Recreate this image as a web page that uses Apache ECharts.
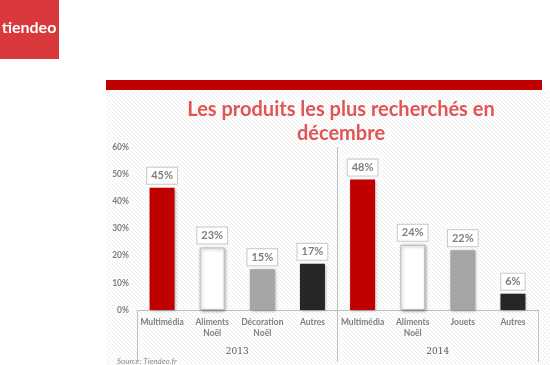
<!DOCTYPE html>
<html>
<head>
<meta charset="utf-8">
<script src="https://cdn.jsdelivr.net/npm/echarts@6/dist/echarts.min.js"></script>
<style>
html,body{margin:0;padding:0;background:#fff;}
#chart{width:550px;height:365px;}
</style>
</head>
<body>
<div id="chart"></div>
<script>
// ---- data ----
var categories = ['Multimédia', 'Aliments\nNoël', 'Décoration\nNoël', 'Autres', 'Multimédia', 'Aliments\nNoël', 'Jouets', 'Autres'];
var years = ['2013', '2014'];
var values = [45, 23, 15, 17, 48, 24, 22, 6];
var yTicks = [0, 10, 20, 30, 40, 50, 60];
var titleText = 'Les produits les plus recherchés en\ndécembre';
var sourceText = 'Source: Tiendeo.fr';
var logoText = 'tiendeo';

// ---- styles ----
var barColors = ['#c00000', '#ffffff', '#a5a5a5', '#262626', '#c00000', '#ffffff', '#a5a5a5', '#262626'];

// hatch pattern for panel background
var pat = document.createElement('canvas');
pat.width = 4; pat.height = 4;
var pc = pat.getContext('2d');
pc.fillStyle = '#ffffff'; pc.fillRect(0, 0, 4, 4);
pc.strokeStyle = 'rgba(0,0,0,0.07)';
pc.lineWidth = 1;
pc.beginPath();
pc.moveTo(0, 0); pc.lineTo(4, 4);
pc.moveTo(-1, 3); pc.lineTo(1, 5);
pc.moveTo(3, -1); pc.lineTo(5, 1);
pc.stroke();

var chart = echarts.init(document.getElementById('chart'), null, {renderer: 'canvas'});

var barData = values.map(function (v, i) {
  var st = {color: barColors[i], shadowColor: 'rgba(0,0,0,0.35)', shadowBlur: 3, shadowOffsetX: 1, shadowOffsetY: 1};
  if (barColors[i] === '#ffffff') { st.borderColor = '#bfbfbf'; st.borderWidth = 1; }
  return {value: v, itemStyle: st};
});

var option = {
  backgroundColor: '#ffffff',
  animation: false,
  graphic: [
    {type: 'rect', shape: {x: 106, y: 91, width: 444, height: 274}, style: {fill: {image: pat, repeat: 'repeat'}}, z: -10, silent: true},
    {type: 'rect', shape: {x: 106, y: 80, width: 436, height: 10}, style: {fill: '#c00000'}, z: -5, silent: true},
    {type: 'rect', shape: {x: 0, y: 0, width: 59, height: 59}, style: {fill: '#d9393b'}, z: -5, silent: true},
    {type: 'text', x: 29, y: 28, style: {text: logoText, fill: '#ffffff', font: 'bold 16px Lato', textAlign: 'center', textVerticalAlign: 'middle'}, z: 10, silent: true}
  ],
  title: [
    {text: titleText, left: 336, top: 93, textAlign: 'center',
     textStyle: {color: '#e05555', fontSize: 20, fontWeight: 'bold', fontFamily: 'Lato', lineHeight: 24}},
    {text: sourceText, left: 112, top: 352,
     textStyle: {color: '#8c8c8c', fontSize: 8, fontStyle: 'italic', fontWeight: 'normal', fontFamily: 'Lato'}}
  ],
  grid: {left: 137, right: 12, top: 147, bottom: 55, containLabel: false},
  xAxis: [
    {
      type: 'category', data: categories, position: 'bottom',
      axisLine: {show: true, lineStyle: {color: '#bfbfbf', width: 1}},
      axisTick: {show: false},
      axisLabel: {color: '#7f7f7f', fontSize: 8.5, fontWeight: 'bold', fontFamily: 'Lato', lineHeight: 11, margin: 7, interval: 0}
    },
    {
      type: 'category', data: years, position: 'bottom',
      axisLine: {show: false},
      axisTick: {show: true, length: 52, lineStyle: {color: '#bfbfbf', width: 1}},
      axisLabel: {color: '#595959', fontSize: 9, fontFamily: 'DejaVu Serif', margin: 37},
      splitLine: {show: true, showMinLine: false, showMaxLine: false, lineStyle: {color: '#bfbfbf', width: 1}}
    }
  ],
  yAxis: {
    type: 'value', min: yTicks[0], max: yTicks[yTicks.length - 1], interval: yTicks[1] - yTicks[0],
    axisLine: {show: false}, axisTick: {show: false}, splitLine: {show: false},
    axisLabel: {color: '#7f7f7f', fontSize: 8.5, fontWeight: 'bold', fontFamily: 'Lato', margin: 8, formatter: '{value}%'}
  },
  series: [{
    type: 'bar', xAxisIndex: 0, data: barData, barWidth: 25,
    label: {
      show: true, position: 'top', distance: 4, formatter: '{c}%',
      color: '#7f7f7f', fontSize: 11, fontWeight: 'bold', fontFamily: 'Lato',
      backgroundColor: '#ffffff', borderColor: '#c8c8c8', borderWidth: 1, padding: [2, 4, 2, 4], lineHeight: 12
    }
  }]
};
chart.setOption(option);
</script>
</body>
</html>
